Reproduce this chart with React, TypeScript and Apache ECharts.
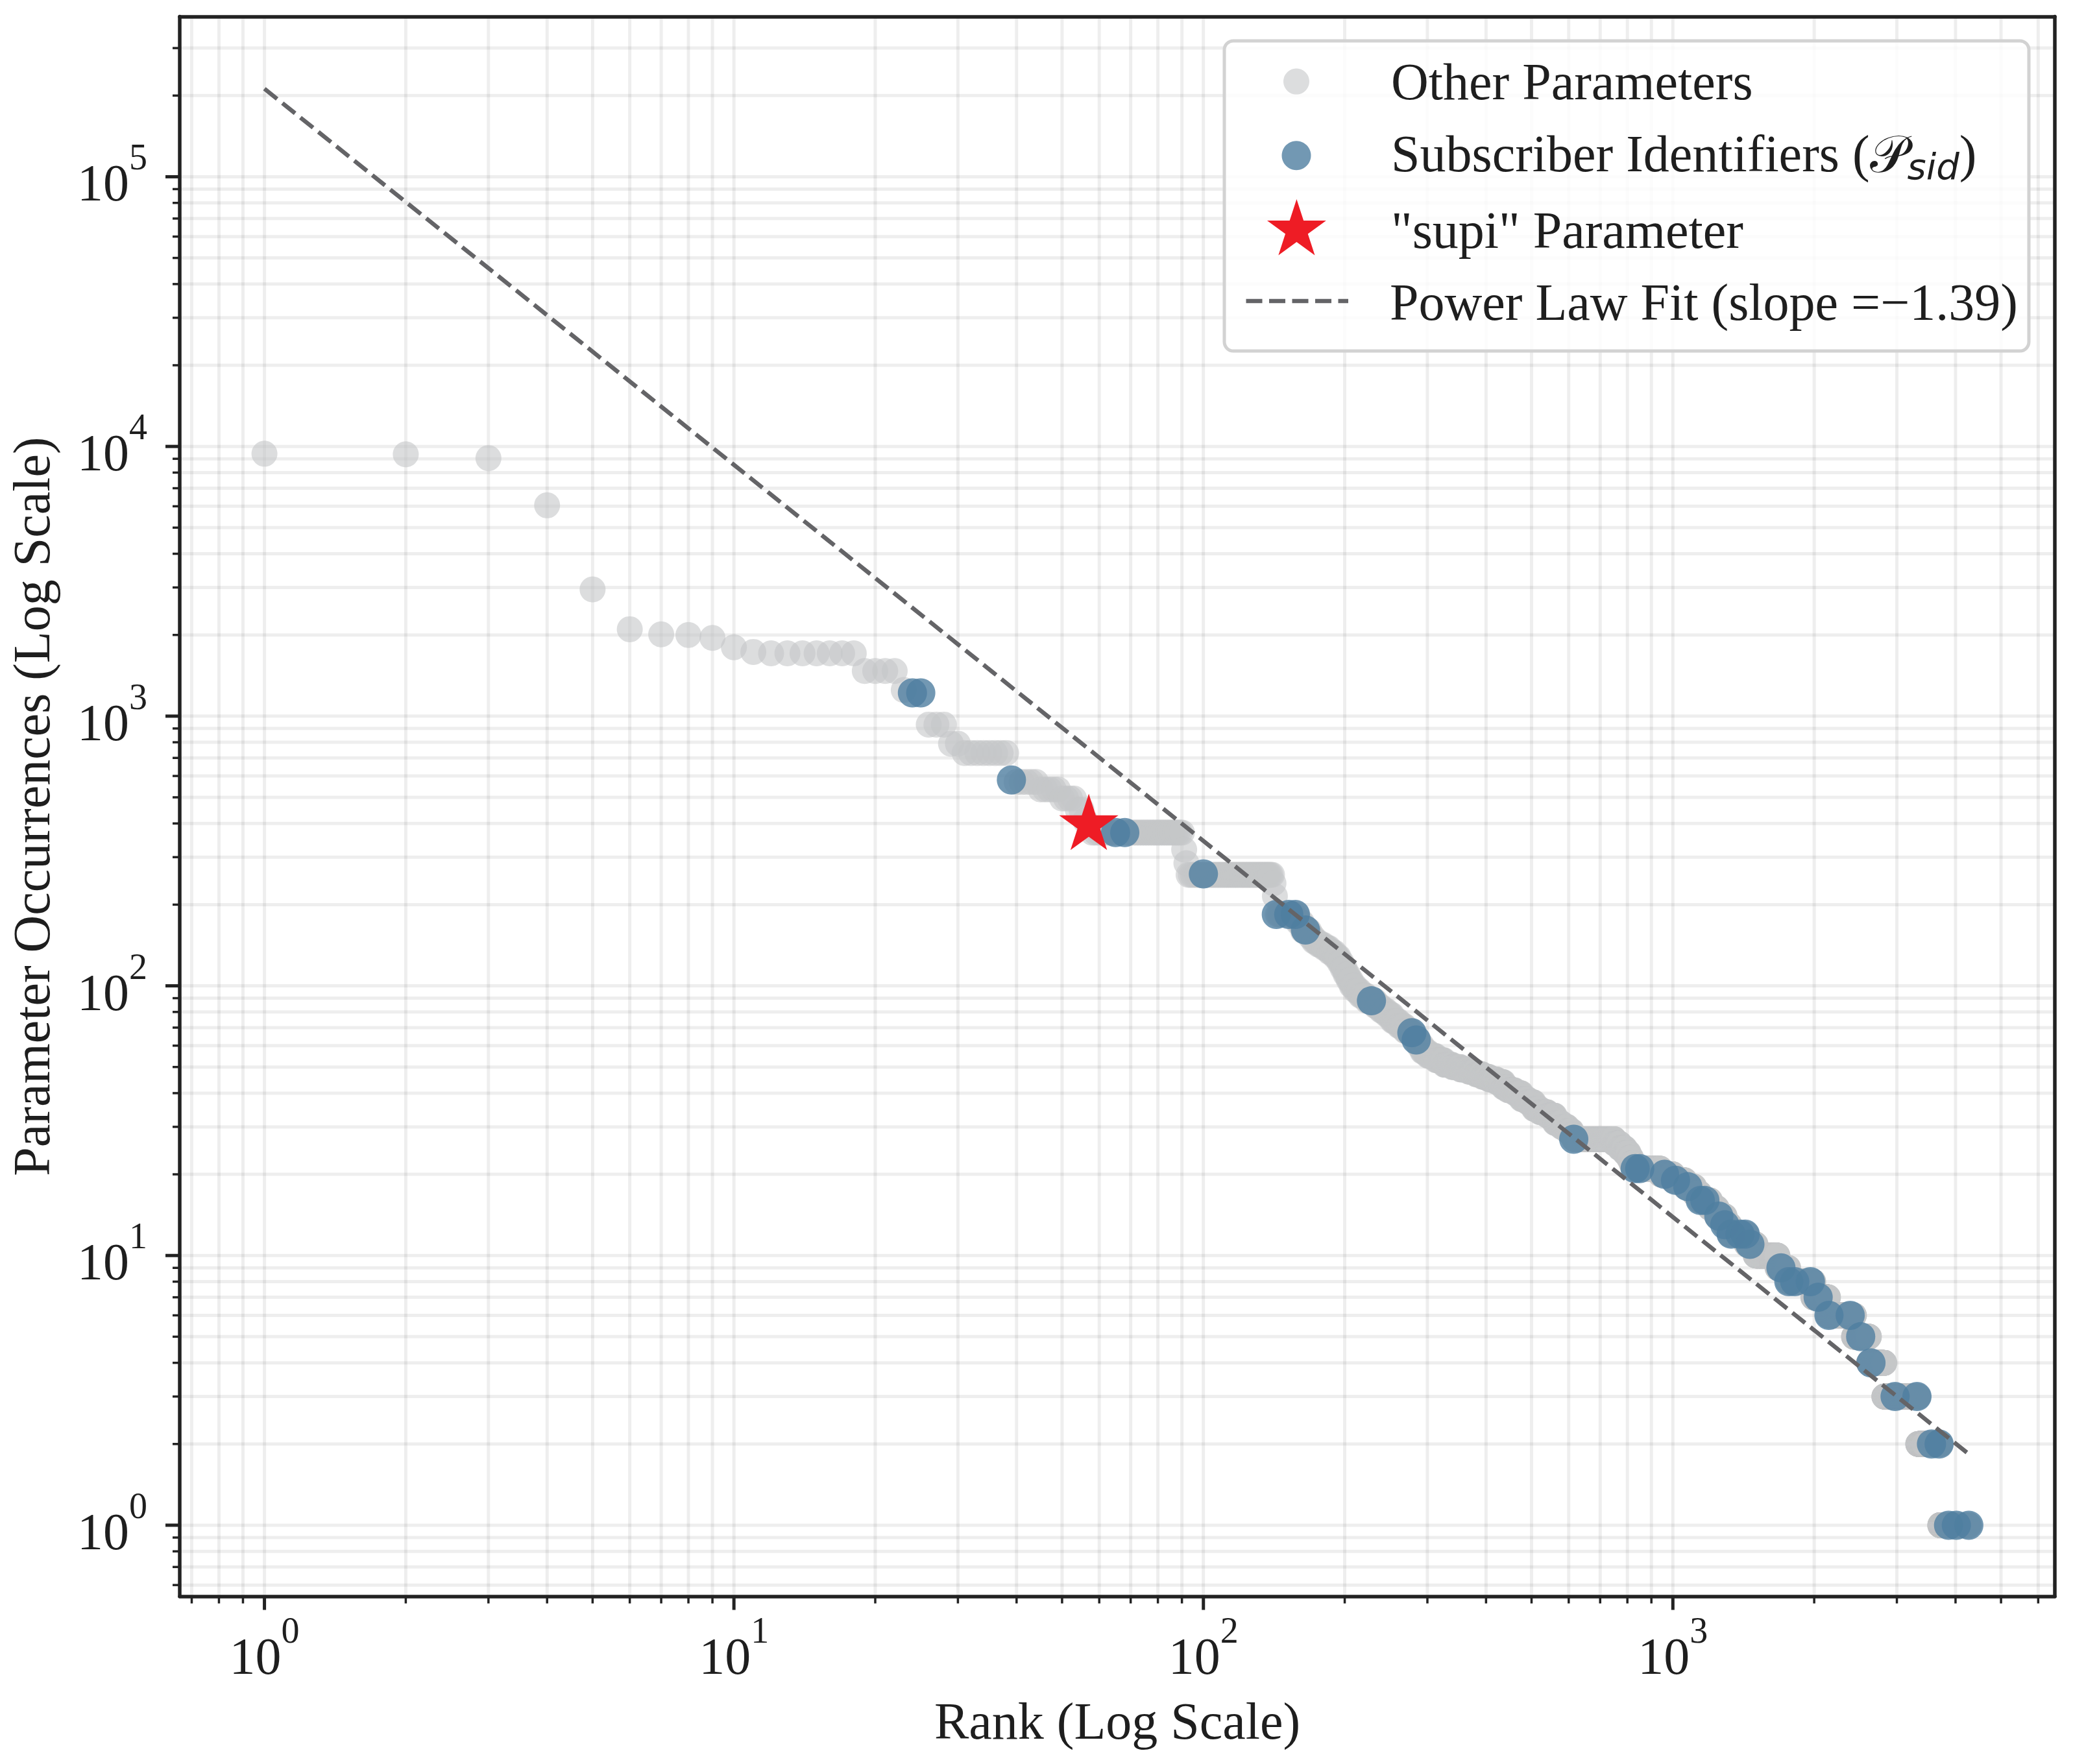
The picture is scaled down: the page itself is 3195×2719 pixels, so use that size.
import React, { useEffect, useRef } from 'react';
import * as echarts from 'echarts';

// ---------- axis extents & ticks ----------
const X_MIN = 0.66;
const X_MAX = 6510;
const Y_MIN = 0.545;
const Y_MAX = 392700;

const xMajorTicks = [1, 10, 100, 1000];
const xMinorTicks = [
  0.7, 0.8, 0.9,
  2, 3, 4, 5, 6, 7, 8, 9,
  20, 30, 40, 50, 60, 70, 80, 90,
  200, 300, 400, 500, 600, 700, 800, 900,
  2000, 3000, 4000, 5000, 6000,
];
const yMajorTicks = [1, 10, 100, 1000, 10000, 100000];
const yMinorTicks = [
  0.6, 0.7, 0.8, 0.9,
  2, 3, 4, 5, 6, 7, 8, 9,
  20, 30, 40, 50, 60, 70, 80, 90,
  200, 300, 400, 500, 600, 700, 800, 900,
  2000, 3000, 4000, 5000, 6000, 7000, 8000, 9000,
  20000, 30000, 40000, 50000, 60000, 70000, 80000, 90000,
  200000, 300000,
];

// ---------- data ----------
// Other parameters: runs of consecutive ranks sharing one occurrence count [firstRank, lastRank, count]
const otherRuns: [number, number, number][] = [
  [1, 1, 9400], [2, 2, 9350], [3, 3, 9050], [4, 4, 6050], [5, 5, 2950],
  [6, 6, 2100], [7, 7, 2010], [8, 8, 2000], [9, 9, 1950], [10, 10, 1800],
  [11, 11, 1730], [12, 18, 1710], [19, 22, 1470], [23, 23, 1250],
  [26, 28, 930], [29, 30, 790], [31, 38, 730],
  [40, 44, 570], [45, 49, 535], [50, 53, 495], [54, 55, 450], [56, 56, 410],
  [58, 90, 370], [91, 91, 320], [92, 92, 285], [93, 140, 258],
  [141, 141, 240], [142, 142, 215], [144, 158, 184], [159, 162, 172],
  [163, 168, 160], [169, 171, 152], [172, 175, 146], [176, 180, 142],
  [181, 185, 138], [186, 190, 133], [191, 194, 128], [195, 197, 122],
  [198, 200, 116], [201, 203, 110], [204, 206, 105], [207, 210, 100],
  [211, 215, 96], [216, 222, 92], [223, 232, 88], [233, 238, 84],
  [239, 245, 81], [246, 252, 78], [253, 260, 74], [261, 268, 71],
  [269, 276, 68], [277, 282, 66], [283, 287, 63], [288, 292, 60],
  [293, 300, 57], [301, 312, 55], [313, 325, 53], [326, 338, 51],
  [339, 352, 50], [353, 367, 49], [368, 380, 48], [381, 392, 47],
  [393, 405, 46], [406, 420, 45], [421, 435, 44], [436, 445, 42],
  [446, 460, 41], [461, 475, 40], [476, 490, 38], [491, 505, 37],
  [506, 520, 35], [521, 540, 34], [541, 560, 33], [561, 578, 31],
  [579, 595, 30], [596, 608, 29], [609, 614, 28], [615, 750, 27],
  [751, 770, 26], [771, 790, 25], [791, 805, 24], [806, 815, 23],
  [816, 825, 22], [826, 940, 21], [941, 1000, 20], [1001, 1060, 19],
  [1061, 1110, 18], [1111, 1140, 17], [1141, 1200, 16], [1201, 1240, 15],
  [1241, 1290, 14], [1291, 1320, 13], [1321, 1435, 12], [1436, 1500, 11],
  [1501, 1670, 10], [1671, 1760, 9], [1761, 1990, 8], [1991, 2140, 7],
  [2141, 2430, 6], [2431, 2615, 5], [2616, 2820, 4], [2821, 3330, 3],
  [3331, 3710, 2], [3711, 4270, 1],
];

// Subscriber identifiers [rank, count]
const subscriberPoints: [number, number][] = [
  [24, 1220], [25, 1220], [39, 580], [65, 370], [68, 370], [100, 260],
  [143, 184], [152, 184], [157, 184], [165, 161], [228, 88], [278, 67],
  [284, 63], [615, 27], [831, 21], [850, 21], [960, 20], [1013, 19],
  [1076, 18], [1144, 16], [1170, 16], [1253, 14], [1290, 13], [1331, 12],
  [1390, 12], [1426, 12], [1459, 11], [1699, 9], [1766, 8], [1818, 8],
  [1963, 8], [2039, 7], [2150, 6], [2386, 6], [2512, 5], [2642, 4],
  [2974, 3], [3311, 3], [3555, 2], [3691, 2], [3866, 1], [4016, 1], [4269, 1],
];

// "supi" parameter [rank, count]
const supiPoint: [number, number][] = [[57, 395]];

// Power-law fit end points [rank, count]
const powerLawFit: [number, number][] = [[1, 212000], [4295, 1.82]];

// ---------- styles ----------
const FONT = "'Liberation Serif', 'Times New Roman', serif";
const TEXT_C = '#1e1e1e';
const GRAY = '#c5c6c8';
const BLUE = '#4f7ea0';
const RED = '#ee1c25';
const LINE_C = '#646467';
const GRID_C = 'rgba(0,0,0,0.068)';
const SPINE_C = '#222222';

function starPoints(cx: number, cy: number, R: number): number[][] {
  const pts: number[][] = [];
  const r = R * 0.381966;
  for (let k = 0; k < 10; k++) {
    const ang = -Math.PI / 2 + (k * Math.PI) / 5;
    const rad = k % 2 === 0 ? R : r;
    pts.push([cx + rad * Math.cos(ang), cy + rad * Math.sin(ang)]);
  }
  return pts;
}

function starPath(): string {
  const pts = starPoints(0, 0, 100);
  return 'path://' + pts.map((p, i) => (i === 0 ? 'M' : 'L') + p[0].toFixed(3) + ' ' + p[1].toFixed(3)).join(' ') + ' Z';
}

function powLabel(v: number): string {
  const l = Math.log10(v);
  const e = Math.round(l);
  if (Math.abs(l - e) > 1e-6) return '';
  return '{b|10}{s|' + e + '}';
}

const labelRich = {
  b: { fontSize: 80, fontFamily: FONT, color: TEXT_C, verticalAlign: 'bottom' },
  s: { fontSize: 56, fontFamily: FONT, color: TEXT_C, verticalAlign: 'bottom', padding: [0, 0, 52, 0] },
};

export default function App() {
  const ref = useRef<HTMLDivElement>(null);

  useEffect(() => {
    if (!ref.current) return;
    const chart = echarts.init(ref.current, null, { renderer: 'svg' });

    const blueSet = new Set<number>(subscriberPoints.map((p) => p[0]));
    supiPoint.forEach((p) => blueSet.add(p[0]));
    const otherData: number[][] = [];
    otherRuns.forEach(([s, e, v]) => {
      for (let r = s; r <= e; r++) if (!blueSet.has(r)) otherData.push([r, v]);
    });

    const xGrid = [...xMajorTicks, ...xMinorTicks].map((v) => [v, Y_MIN]);
    const yGrid = [...yMajorTicks, ...yMinorTicks].map((v) => [X_MIN, v]);
    const xTicks = [
      ...xMajorTicks.map((v) => [v, Y_MIN, 1]),
      ...xMinorTicks.map((v) => [v, Y_MIN, 0]),
    ];
    const yTicks = [
      ...yMajorTicks.map((v) => [X_MIN, v, 1]),
      ...yMinorTicks.map((v) => [X_MIN, v, 0]),
    ];

    const spine = { show: true, onZero: false, lineStyle: { color: SPINE_C, width: 5.5 } };

    const option: any = {
      animation: false,
      backgroundColor: '#ffffff',
      grid: { left: 277, right: 28, top: 25.5, bottom: 258.5, containLabel: false },
      xAxis: [
        {
          type: 'log', logBase: 10, min: X_MIN, max: X_MAX, position: 'bottom', z: 10,
          axisLine: spine, axisTick: { show: false }, splitLine: { show: false }, minorTick: { show: false },
          axisLabel: {
            formatter: powLabel, margin: 24.5, rich: labelRich, showMinLabel: false, showMaxLabel: false,
            fontFamily: FONT, fontSize: 80, color: TEXT_C,
          },
          name: 'Rank (Log Scale)', nameLocation: 'middle', nameGap: 152,
          nameTextStyle: { fontSize: 80, fontFamily: FONT, color: TEXT_C },
        },
        {
          type: 'log', logBase: 10, min: X_MIN, max: X_MAX, position: 'top', z: 10,
          axisLine: spine, axisTick: { show: false }, splitLine: { show: false }, axisLabel: { show: false },
        },
      ],
      yAxis: [
        {
          type: 'log', logBase: 10, min: Y_MIN, max: Y_MAX, position: 'left', z: 10,
          axisLine: spine, axisTick: { show: false }, splitLine: { show: false }, minorTick: { show: false },
          axisLabel: {
            formatter: powLabel, margin: 50, rich: labelRich, showMinLabel: false, showMaxLabel: false,
            padding: [0, 0, 8, 0], fontFamily: FONT, fontSize: 80, color: TEXT_C,
          },
          name: 'Parameter Occurrences (Log Scale)', nameLocation: 'middle', nameGap: 188,
          nameTextStyle: { fontSize: 80, fontFamily: FONT, color: TEXT_C },
        },
        {
          type: 'log', logBase: 10, min: Y_MIN, max: Y_MAX, position: 'right', z: 10,
          axisLine: spine, axisTick: { show: false }, splitLine: { show: false }, axisLabel: { show: false },
        },
      ],
      series: [
        {
          type: 'custom', name: 'xgrid', silent: true, z: 1, xAxisIndex: 0, yAxisIndex: 0,
          data: xGrid,
          renderItem: (params: any, api: any) => {
            const v = api.value(0);
            const a = api.coord([v, Y_MIN]);
            const b = api.coord([v, Y_MAX]);
            return { type: 'line', shape: { x1: a[0], y1: a[1], x2: b[0], y2: b[1] }, style: { stroke: GRID_C, lineWidth: 5 } };
          },
        },
        {
          type: 'custom', name: 'ygrid', silent: true, z: 1, xAxisIndex: 0, yAxisIndex: 0,
          data: yGrid,
          renderItem: (params: any, api: any) => {
            const v = api.value(1);
            const a = api.coord([X_MIN, v]);
            const b = api.coord([X_MAX, v]);
            return { type: 'line', shape: { x1: a[0], y1: a[1], x2: b[0], y2: b[1] }, style: { stroke: GRID_C, lineWidth: 5 } };
          },
        },
        {
          type: 'custom', name: 'xticks', silent: true, z: 11, clip: false, xAxisIndex: 0, yAxisIndex: 0,
          data: xTicks,
          renderItem: (params: any, api: any) => {
            const p = api.coord([api.value(0), Y_MIN]);
            const major = api.value(2) === 1;
            const len = major ? 21 : 11;
            return { type: 'line', shape: { x1: p[0], y1: p[1], x2: p[0], y2: p[1] + len }, style: { stroke: SPINE_C, lineWidth: major ? 5 : 3.5 } };
          },
        },
        {
          type: 'custom', name: 'yticks', silent: true, z: 11, clip: false, xAxisIndex: 0, yAxisIndex: 0,
          data: yTicks,
          renderItem: (params: any, api: any) => {
            const p = api.coord([X_MIN, api.value(1)]);
            const major = api.value(2) === 1;
            const len = major ? 22 : 11;
            return { type: 'line', shape: { x1: p[0], y1: p[1], x2: p[0] - len, y2: p[1] }, style: { stroke: SPINE_C, lineWidth: major ? 5 : 3.5 } };
          },
        },
        {
          type: 'scatter', name: 'Other Parameters', z: 2, data: otherData,
          symbol: 'circle', symbolSize: 40,
          itemStyle: { color: GRAY, opacity: 0.6 },
        },
        {
          type: 'scatter', name: 'Subscriber Identifiers', z: 3, data: subscriberPoints,
          symbol: 'circle', symbolSize: 45,
          itemStyle: { color: BLUE, opacity: 0.8 },
        },
        {
          type: 'scatter', name: '"supi" Parameter', z: 4, data: supiPoint,
          symbol: starPath(), symbolSize: [91.3, 86.8], symbolOffset: [0, -4.6],
          itemStyle: { color: RED, opacity: 1 },
        },
        {
          type: 'line', name: 'Power Law Fit', z: 5, data: powerLawFit,
          symbol: 'none', showSymbol: false,
          lineStyle: { color: LINE_C, width: 6.5, type: [25, 10.5] },
        },
      ],
      graphic: [
        {
          type: 'rect', z: 50,
          shape: { x: 1887, y: 63, width: 1240, height: 478, r: 14 },
          style: { fill: 'rgba(255,255,255,0.8)', stroke: '#d2d2d2', lineWidth: 5 },
        },
        { type: 'circle', z: 51, shape: { cx: 1998, cy: 125.6, r: 20 }, style: { fill: GRAY, opacity: 0.6 } },
        { type: 'circle', z: 51, shape: { cx: 1998, cy: 239.7, r: 22.5 }, style: { fill: BLUE, opacity: 0.8 } },
        { type: 'polygon', z: 51, shape: { points: starPoints(1998.4, 354.8, 47.8) }, style: { fill: RED } },
        {
          type: 'line', z: 51, shape: { x1: 1920.5, y1: 464, x2: 2078, y2: 464 },
          style: { stroke: LINE_C, lineWidth: 6.5, lineDash: [25, 10.5] },
        },
        {
          type: 'text', z: 52, x: 2144, y: 125.8,
          style: { text: 'Other Parameters', fontSize: 80, fontFamily: FONT, fill: TEXT_C, align: 'left', verticalAlign: 'middle' },
        },
        {
          type: 'text', z: 52, x: 2144, y: 240.8,
          style: {
            text: '{t|Subscriber Identifiers (}{p|\u{1D4AB}}{sub|sid}{t|)}',
            align: 'left', verticalAlign: 'middle', fill: TEXT_C,
            rich: {
              t: { fontSize: 80, fontFamily: FONT, fill: TEXT_C, verticalAlign: 'bottom', padding: [0, 0, 7.6, 0] },
              p: { fontSize: 80, fontFamily: "'DejaVu Sans', " + FONT, fill: TEXT_C, verticalAlign: 'bottom', padding: [0, 0, 7.6, 0] },
              sub: { fontSize: 56, fontFamily: "'DejaVu Sans', sans-serif", fontStyle: 'italic', fill: TEXT_C, verticalAlign: 'bottom' },
            },
          },
        },
        {
          type: 'text', z: 52, x: 2144, y: 354.7,
          style: { text: '"supi" Parameter', fontSize: 80, fontFamily: FONT, fill: TEXT_C, align: 'left', verticalAlign: 'middle' },
        },
        {
          type: 'text', z: 52, x: 2142, y: 465.8,
          style: { text: 'Power Law Fit (slope =\u22121.39)', fontSize: 80, fontFamily: FONT, fill: TEXT_C, align: 'left', verticalAlign: 'middle' },
        },
      ],
    };

    chart.setOption(option);
    return () => {
      chart.dispose();
    };
  }, []);

  return (
    <div
      ref={ref}
      style={{ position: 'absolute', left: 0, top: 0, width: 3195, height: 2719, background: '#ffffff' }}
    />
  );
}
